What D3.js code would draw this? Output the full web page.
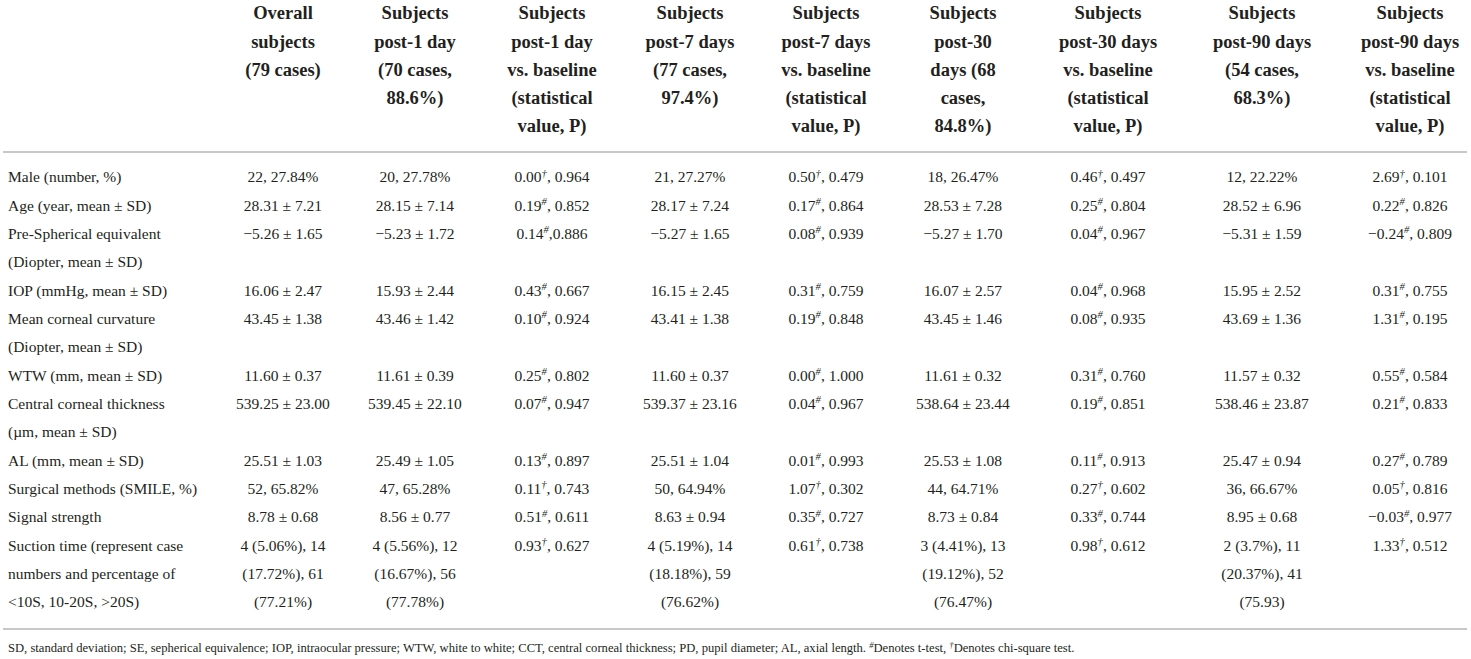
<!DOCTYPE html>
<html>
<head>
  <meta charset="utf-8">
  <title>Baseline and follow-up characteristics</title>
  <script src="https://d3js.org/d3.v7.min.js"></script>
  <style>
    body { margin: 0; background: #fff; }
    text { font-family: "Liberation Serif", "Times New Roman", serif; fill: #231f20; }
    .head { font-weight: bold; font-size: 18.5px; }
    .cell { font-size: 15.5px; }
    .note { font-size: 12.6px; }
  </style>
</head>
<body>
  <svg id="chart" width="1471" height="659"></svg>

  <script>
    // Column headers (already wrapped as in the printed table)
    const headerLines = [
      ["Overall", "subjects", "(79 cases)"],
      ["Subjects", "post-1 day", "(70 cases,", "88.6%)"],
      ["Subjects", "post-1 day", "vs. baseline", "(statistical", "value, P)"],
      ["Subjects", "post-7 days", "(77 cases,", "97.4%)"],
      ["Subjects", "post-7 days", "vs. baseline", "(statistical", "value, P)"],
      ["Subjects", "post-30", "days (68", "cases,", "84.8%)"],
      ["Subjects", "post-30 days", "vs. baseline", "(statistical", "value, P)"],
      ["Subjects", "post-90 days", "(54 cases,", "68.3%)"],
      ["Subjects", "post-90 days", "vs. baseline", "(statistical", "value, P)"]
    ];

    // Row labels (one entry per printed line)
    const rowLabels = [
      ["Male (number, %)"],
      ["Age (year, mean ± SD)"],
      ["Pre-Spherical equivalent", "(Diopter, mean ± SD)"],
      ["IOP (mmHg, mean ± SD)"],
      ["Mean corneal curvature", "(Diopter, mean ± SD)"],
      ["WTW (mm, mean ± SD)"],
      ["Central corneal thickness", "(µm, mean ± SD)"],
      ["AL (mm, mean ± SD)"],
      ["Surgical methods (SMILE, %)"],
      ["Signal strength"],
      ["Suction time (represent case", "numbers and percentage of", "<10S, 10-20S, >20S)"]
    ];

    // Series values, one array per column (# = t-test, † = chi-square test)
    const overall = ["22, 27.84%", "28.31 ± 7.21", "−5.26 ± 1.65", "16.06 ± 2.47", "43.45 ± 1.38", "11.60 ± 0.37",
      "539.25 ± 23.00", "25.51 ± 1.03", "52, 65.82%", "8.78 ± 0.68", ["4 (5.06%), 14", "(17.72%), 61", "(77.21%)"]];
    const post1 = ["20, 27.78%", "28.15 ± 7.14", "−5.23 ± 1.72", "15.93 ± 2.44", "43.46 ± 1.42", "11.61 ± 0.39",
      "539.45 ± 22.10", "25.49 ± 1.05", "47, 65.28%", "8.56 ± 0.77", ["4 (5.56%), 12", "(16.67%), 56", "(77.78%)"]];
    const post1Stat = ["0.00†, 0.964", "0.19#, 0.852", "0.14#,0.886", "0.43#, 0.667", "0.10#, 0.924", "0.25#, 0.802",
      "0.07#, 0.947", "0.13#, 0.897", "0.11†, 0.743", "0.51#, 0.611", "0.93†, 0.627"];
    const post7 = ["21, 27.27%", "28.17 ± 7.24", "−5.27 ± 1.65", "16.15 ± 2.45", "43.41 ± 1.38", "11.60 ± 0.37",
      "539.37 ± 23.16", "25.51 ± 1.04", "50, 64.94%", "8.63 ± 0.94", ["4 (5.19%), 14", "(18.18%), 59", "(76.62%)"]];
    const post7Stat = ["0.50†, 0.479", "0.17#, 0.864", "0.08#, 0.939", "0.31#, 0.759", "0.19#, 0.848", "0.00#, 1.000",
      "0.04#, 0.967", "0.01#, 0.993", "1.07†, 0.302", "0.35#, 0.727", "0.61†, 0.738"];
    const post30 = ["18, 26.47%", "28.53 ± 7.28", "−5.27 ± 1.70", "16.07 ± 2.57", "43.45 ± 1.46", "11.61 ± 0.32",
      "538.64 ± 23.44", "25.53 ± 1.08", "44, 64.71%", "8.73 ± 0.84", ["3 (4.41%), 13", "(19.12%), 52", "(76.47%)"]];
    const post30Stat = ["0.46†, 0.497", "0.25#, 0.804", "0.04#, 0.967", "0.04#, 0.968", "0.08#, 0.935", "0.31#, 0.760",
      "0.19#, 0.851", "0.11#, 0.913", "0.27†, 0.602", "0.33#, 0.744", "0.98†, 0.612"];
    const post90 = ["12, 22.22%", "28.52 ± 6.96", "−5.31 ± 1.59", "15.95 ± 2.52", "43.69 ± 1.36", "11.57 ± 0.32",
      "538.46 ± 23.87", "25.47 ± 0.94", "36, 66.67%", "8.95 ± 0.68", ["2 (3.7%), 11", "(20.37%), 41", "(75.93)"]];
    const post90Stat = ["2.69†, 0.101", "0.22#, 0.826", "−0.24#, 0.809", "0.31#, 0.755", "1.31#, 0.195", "0.55#, 0.584",
      "0.21#, 0.833", "0.27#, 0.789", "0.05†, 0.816", "−0.03#, 0.977", "1.33†, 0.512"];

    const series = [overall, post1, post1Stat, post7, post7Stat, post30, post30Stat, post90, post90Stat];

    const footnote = "SD, standard deviation; SE, sepherical equivalence; IOP, intraocular pressure; WTW, white to white; " +
      "CCT, central corneal thickness; PD, pupil diameter; AL, axial length. #Denotes t-test, †Denotes chi-square test.";

    // ---- layout ----
    const svg = d3.select("#chart");
    const colIdx = d3.range(series.length);
    const x = d3.scaleOrdinal()
      .domain(colIdx)
      .range([283, 415, 552, 690, 826, 963, 1108, 1262, 1410]);

    // every printed line sits on the same pitch
    const totalLines = d3.sum(rowLabels, d => d.length);
    const yLine = d3.scaleLinear().domain([0, totalLines - 1]).range([177, 602]);
    const yHead = d3.scaleLinear().domain([0, 4]).range([13, 126]);

    // line index where each row starts
    const rowStart = d3.cumsum([0].concat(rowLabels.map(d => d.length))).slice(0, rowLabels.length);

    // writes text, raising the test markers (# and †) to superscripts
    function richText(sel, str, size) {
      const shift = size * 0.38;
      let pending = 0;
      str.split(/([#†])/).filter(s => s !== "").forEach(part => {
        if (part === "#" || part === "†") {
          sel.append("tspan")
            .attr("dy", -shift + pending)
            .style("font-size", (size * 0.68) + "px")
            .style("font-style", "italic")
            .text(part);
          pending = shift;
        } else {
          const t = sel.append("tspan").text(part);
          if (pending) t.attr("dy", pending);
          pending = 0;
        }
      });
    }

    // header
    const head = svg.append("g");
    headerLines.forEach((lines, c) => {
      head.selectAll(null)
        .data(lines)
        .enter()
        .append("text")
        .attr("class", "head")
        .attr("x", x(c))
        .attr("y", (d, i) => yHead(i))
        .attr("dy", "0.35em")
        .attr("text-anchor", "middle")
        .text(d => d);
    });

    // rules
    const rules = svg.append("g")
      .attr("stroke", "#c8c8c8")
      .attr("stroke-width", 2);
    rules.append("line").attr("x1", 3).attr("x2", 1467).attr("y1", 152).attr("y2", 152);
    rules.append("line").attr("x1", 3).attr("x2", 1467).attr("y1", 629).attr("y2", 629);

    // row labels
    const body = svg.append("g");
    rowLabels.forEach((lines, r) => {
      body.selectAll(null)
        .data(lines)
        .enter()
        .append("text")
        .attr("class", "cell")
        .attr("x", 8)
        .attr("y", (d, i) => yLine(rowStart[r] + i))
        .attr("dy", "0.35em")
        .text(d => d);
    });

    // values
    series.forEach((col, c) => {
      col.forEach((v, r) => {
        const lines = Array.isArray(v) ? v : [v];
        lines.forEach((line, i) => {
          const t = body.append("text")
            .attr("class", "cell")
            .attr("x", x(c))
            .attr("y", yLine(rowStart[r] + i))
            .attr("dy", "0.35em")
            .attr("text-anchor", "middle");
          richText(t, line, 15.5);
        });
      });
    });

    // footnote
    const note = svg.append("text")
      .attr("class", "note")
      .attr("x", 8)
      .attr("y", 648)
      .attr("dy", "0.35em");
    richText(note, footnote, 12.6);
  </script>
</body>
</html>
